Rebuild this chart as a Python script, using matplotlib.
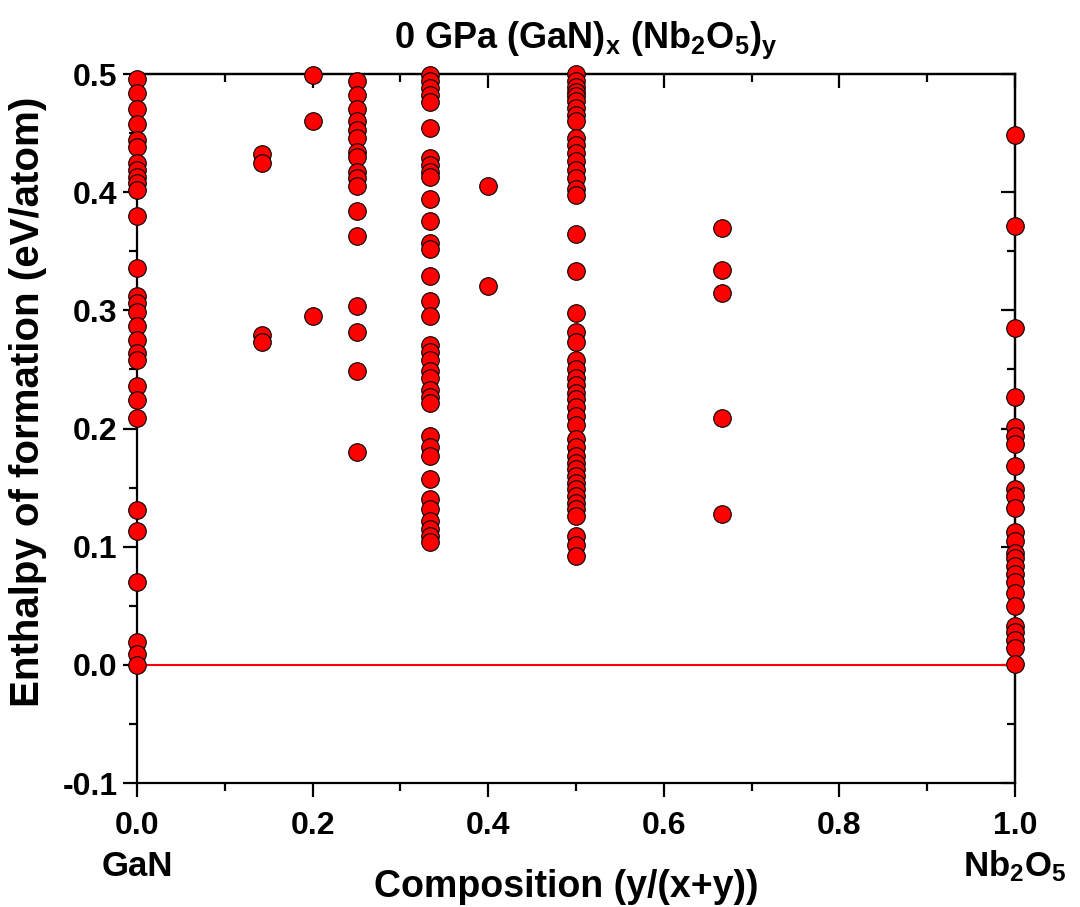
import numpy as np
import matplotlib
matplotlib.use('Agg')
import matplotlib.pyplot as plt
from matplotlib.ticker import MultipleLocator, FormatStrFormatter

plt.rcParams['font.family'] = ['Liberation Sans', 'DejaVu Sans']
plt.rcParams['font.weight'] = 'bold'
plt.rcParams['mathtext.default'] = 'regular'

# composition y/(x+y) of each group and the enthalpies (eV/atom) found there
comp_gan = 0.0
h_gan = [0.496, 0.484, 0.470, 0.458, 0.444, 0.438, 0.425, 0.419, 0.413, 0.408,
         0.402, 0.380, 0.336, 0.312, 0.306, 0.299, 0.287, 0.275, 0.264, 0.258,
         0.236, 0.224, 0.209, 0.131, 0.113, 0.070, 0.019, 0.009, 0.0]

comp_17 = 1.0 / 7.0
h_17 = [0.432, 0.425, 0.279, 0.273]

comp_20 = 0.2
h_20 = [0.499, 0.460, 0.295]

comp_25 = 0.25
h_25 = [0.494, 0.482, 0.470, 0.460, 0.453, 0.446, 0.434, 0.430, 0.417, 0.412,
        0.405, 0.384, 0.363, 0.304, 0.282, 0.249, 0.180]

comp_33 = 1.0 / 3.0
h_33 = [0.499, 0.494, 0.488, 0.482, 0.476, 0.454, 0.429, 0.423, 0.417, 0.413,
        0.394, 0.376, 0.357, 0.352, 0.329, 0.308, 0.295, 0.271, 0.265, 0.258,
        0.249, 0.243, 0.233, 0.227, 0.222, 0.194, 0.184, 0.177, 0.157, 0.140,
        0.132, 0.122, 0.115, 0.109, 0.104]

comp_40 = 0.4
h_40 = [0.405, 0.321]

comp_50 = 0.5
h_50 = [0.500, 0.494, 0.489, 0.485, 0.481, 0.477, 0.471, 0.465, 0.460, 0.446,
        0.440, 0.433, 0.426, 0.419, 0.412, 0.403, 0.398, 0.365, 0.333, 0.298,
        0.282, 0.273, 0.258, 0.250, 0.243, 0.237, 0.230, 0.225, 0.218, 0.211,
        0.203, 0.191, 0.184, 0.177, 0.171, 0.166, 0.160, 0.154, 0.149, 0.143,
        0.137, 0.132, 0.126, 0.109, 0.101, 0.092]

comp_67 = 2.0 / 3.0
h_67 = [0.370, 0.334, 0.315, 0.209, 0.128]

comp_nb = 1.0
h_nb = [0.448, 0.371, 0.285, 0.227, 0.201, 0.194, 0.187, 0.168, 0.149, 0.143,
        0.133, 0.112, 0.105, 0.095, 0.090, 0.084, 0.077, 0.070, 0.061, 0.050,
        0.033, 0.028, 0.021, 0.014, 0.001]

groups = [(comp_gan, h_gan), (comp_17, h_17), (comp_20, h_20), (comp_25, h_25),
          (comp_33, h_33), (comp_40, h_40), (comp_50, h_50), (comp_67, h_67),
          (comp_nb, h_nb)]

fig = plt.figure(figsize=(10.8, 9.07), dpi=100)
ax = fig.add_axes([0.1269, 0.1367, 0.813, 0.7817])

ax.plot([0, 1], [0, 0], color='red', lw=1.5, zorder=2)

for c, h in groups:
    ax.scatter(np.full(len(h), c), h, s=160, c='red', edgecolors='black',
               linewidths=0.8, zorder=3, clip_on=False)

ax.set_xlim(0, 1)
ax.set_ylim(-0.1, 0.5)
ax.xaxis.set_major_locator(MultipleLocator(0.2))
ax.xaxis.set_minor_locator(MultipleLocator(0.1))
ax.yaxis.set_major_locator(MultipleLocator(0.1))
ax.yaxis.set_minor_locator(MultipleLocator(0.05))
ax.xaxis.set_major_formatter(FormatStrFormatter('%.1f'))
ax.yaxis.set_major_formatter(FormatStrFormatter('%.1f'))

for sp in ax.spines.values():
    sp.set_linewidth(1.6)
ax.tick_params(which='major', direction='out', length=10, width=1.6,
               labelsize=23)
ax.tick_params(which='minor', direction='out', length=6, width=1.6)
ax.tick_params(axis='x', which='major', pad=10)
ax.tick_params(axis='y', which='major', pad=4)

# mirrored ticks on top and right, pointing inwards
top = ax.secondary_xaxis('top')
top.xaxis.set_major_locator(MultipleLocator(0.2))
top.xaxis.set_minor_locator(MultipleLocator(0.1))
top.tick_params(which='major', direction='in', length=10, width=1.6, labeltop=False)
top.tick_params(which='minor', direction='in', length=6, width=1.6)
right = ax.secondary_yaxis('right')
right.yaxis.set_major_locator(MultipleLocator(0.1))
right.yaxis.set_minor_locator(MultipleLocator(0.05))
right.tick_params(which='major', direction='in', length=10, width=1.6, labelright=False)
right.tick_params(which='minor', direction='in', length=6, width=1.6)
for sec in (top, right):
    for sp in sec.spines.values():
        sp.set_linewidth(1.6)

fig.text(0.542, 0.956, '0 GPa (GaN)$_x$ (Nb$_2$O$_5$)$_y$', fontsize=26,
         fontweight='bold', ha='center', va='center')
ax.set_xlabel('Composition (y/(x+y))', fontsize=27, fontweight='bold')
ax.xaxis.set_label_coords(0.489, -0.121)
ax.set_ylabel('Enthalpy of formation (eV/atom)', fontsize=29, fontweight='bold')
ax.yaxis.set_label_coords(-0.102, 0.537)

ax.text(0, -0.179, 'GaN', transform=ax.transData, ha='center', va='baseline',
        fontsize=25, fontweight='bold', clip_on=False)
ax.text(1, -0.179, 'Nb$_2$O$_5$', transform=ax.transData, ha='center',
        va='baseline', fontsize=25, fontweight='bold', clip_on=False)

fig.savefig('out.png', dpi=100)
